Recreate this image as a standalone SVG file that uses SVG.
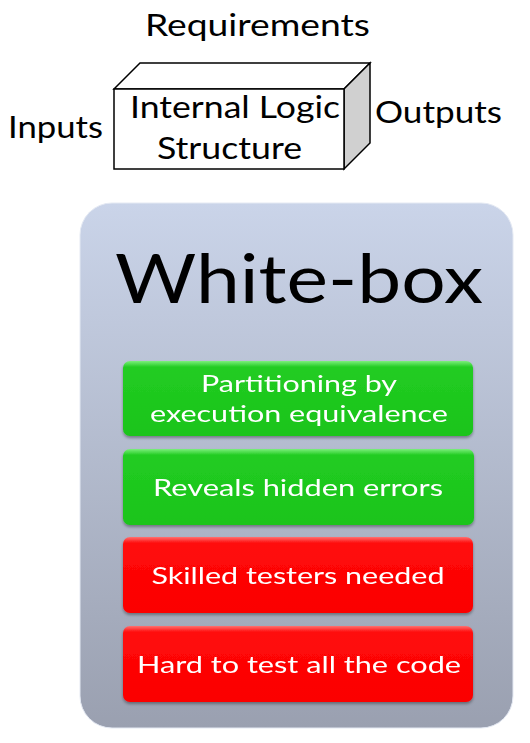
<svg xmlns="http://www.w3.org/2000/svg" width="530" height="743" viewBox="0 0 530 743">
<defs>
<linearGradient id="panel" x1="0" y1="0" x2="0" y2="1">
<stop offset="0" stop-color="#cad4e9"/>
<stop offset="1" stop-color="#9aa0b0"/>
</linearGradient>
<linearGradient id="gGreen" x1="0" y1="0" x2="0" y2="1">
<stop offset="0" stop-color="#7cef7c"/>
<stop offset="0.08" stop-color="#22cc22"/>
<stop offset="1" stop-color="#1ac41a"/>
</linearGradient>
<linearGradient id="gRed" x1="0" y1="0" x2="0" y2="1">
<stop offset="0" stop-color="#ff7070"/>
<stop offset="0.08" stop-color="#ff0a0a"/>
<stop offset="1" stop-color="#fb0000"/>
</linearGradient>
<filter id="sh" x="-5%" y="-10%" width="110%" height="130%">
<feGaussianBlur in="SourceAlpha" stdDeviation="1.5"/>
<feOffset dy="2" result="b"/>
<feComponentTransfer><feFuncA type="linear" slope="0.35"/></feComponentTransfer>
<feMerge><feMergeNode/><feMergeNode in="SourceGraphic"/></feMerge>
</filter>
</defs>
<style>
.lbl{font-family:Lato,"Liberation Sans",sans-serif;fill:#000;}
.big{font-size:30px;}
.btxt{font-family:Lato,"Liberation Sans",sans-serif;font-size:24px;fill:#fff;text-anchor:middle;}
.edge{fill:#fff;stroke:#000;stroke-width:1.5;stroke-linejoin:miter;}
</style>
<g id="blackbox">
<polygon class="edge" points="114,89 140,63 370,63 344,89"/>
<polygon points="344,89 370,63 370,143 344,169" fill="#d0d0d0" stroke="#000" stroke-width="1.5"/>
<rect class="edge" x="114" y="89" width="230" height="80"/>
</g>
<g id="labels">
<text class="lbl big" x="145" y="36" textLength="225" lengthAdjust="spacingAndGlyphs">Requirements</text>
<text class="lbl big" x="8" y="138" textLength="95" lengthAdjust="spacingAndGlyphs">Inputs</text>
<text class="lbl big" x="130" y="118" textLength="210" lengthAdjust="spacingAndGlyphs">Internal Logic</text>
<text class="lbl big" x="157" y="159" textLength="145" lengthAdjust="spacingAndGlyphs">Structure</text>
<text class="lbl big" x="375" y="123" textLength="127" lengthAdjust="spacingAndGlyphs">Outputs</text>
</g>
<g id="whitebox">
<rect x="80" y="203" width="433" height="525" rx="32" fill="url(#panel)" stroke="#e4e9f3" stroke-width="1"/>
<text class="lbl" x="115" y="303" font-size="67" textLength="368" lengthAdjust="spacingAndGlyphs">White-box</text>
</g>
<g id="item1" filter="url(#sh)">
<rect x="123" y="361" width="350" height="75" rx="7" fill="url(#gGreen)"/>
<text class="btxt" x="299" y="392" textLength="196" lengthAdjust="spacingAndGlyphs">Partitioning by</text>
<text class="btxt" x="299" y="422" textLength="298" lengthAdjust="spacingAndGlyphs">execution equivalence</text>
</g>
<g id="item2" filter="url(#sh)">
<rect x="123" y="449" width="351" height="76" rx="7" fill="url(#gGreen)"/>
<text class="btxt" x="298" y="496" textLength="290" lengthAdjust="spacingAndGlyphs">Reveals hidden errors</text>
</g>
<g id="item3" filter="url(#sh)">
<rect x="123" y="537" width="350" height="76" rx="7" fill="url(#gRed)"/>
<text class="btxt" x="298" y="584" textLength="293" lengthAdjust="spacingAndGlyphs">Skilled testers needed</text>
</g>
<g id="item4" filter="url(#sh)">
<rect x="123" y="626" width="350" height="76" rx="7" fill="url(#gRed)"/>
<text class="btxt" x="299" y="673" textLength="324" lengthAdjust="spacingAndGlyphs">Hard to test all the code</text>
</g>
<g id="connectors"/>
</svg>
